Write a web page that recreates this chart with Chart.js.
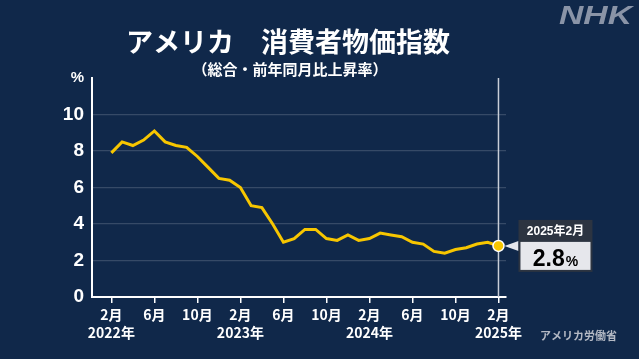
<!DOCTYPE html>
<html lang="ja">
<head>
<meta charset="utf-8">
<script src="https://cdn.jsdelivr.net/npm/chart.js@4.4.0/dist/chart.umd.min.js"></script>
<style>
  html, body { margin: 0; padding: 0; background: #10284a; }
  #wrap { width: 639px; height: 359px; position: relative; }
</style>
</head>
<body>
<div id="wrap"><canvas id="cpiChart"></canvas></div>
<script>
// US CPI, all items, year-over-year change (%)
const months = [
  "2022-02", "2022-03", "2022-04", "2022-05", "2022-06", "2022-07", "2022-08",
  "2022-09", "2022-10", "2022-11", "2022-12",
  "2023-01", "2023-02", "2023-03", "2023-04", "2023-05", "2023-06", "2023-07",
  "2023-08", "2023-09", "2023-10", "2023-11", "2023-12",
  "2024-01", "2024-02", "2024-03", "2024-04", "2024-05", "2024-06", "2024-07",
  "2024-08", "2024-09", "2024-10", "2024-11", "2024-12",
  "2025-01", "2025-02",
];
const cpiValues = [
  7.9, 8.5, 8.3, 8.6, 9.1, 8.5, 8.3, 8.2, 7.7, 7.1, 6.5,
  6.4, 6.0, 5.0, 4.9, 4.0, 3.0, 3.2, 3.7, 3.7, 3.2, 3.1, 3.4,
  3.1, 3.2, 3.5, 3.4, 3.3, 3.0, 2.9, 2.5, 2.4, 2.6, 2.7, 2.9,
  3.0, 2.8,
];
const xTickIndexes = [0, 4, 8, 12, 16, 20, 24, 28, 32, 36];
const yTicks = [0, 2, 4, 6, 8, 10];

const BG = "#10284a";
const LINE = "#f7c600";
const FONT = "'Liberation Sans', 'Noto Sans CJK JP', sans-serif";
const JP = "'Noto Sans CJK JP', 'Liberation Sans', sans-serif";

const lastIdx = cpiValues.length - 1;

const decor = {
  id: "decor",
  beforeDraw(chart) {
    const ctx = chart.ctx;
    ctx.save();
    ctx.fillStyle = BG;
    ctx.fillRect(0, 0, chart.width, chart.height);
    ctx.restore();
  },
  beforeDatasetsDraw(chart) {
    // marker line at latest month
    const ctx = chart.ctx;
    const x = chart.scales.x.getPixelForValue(lastIdx);
    ctx.save();
    ctx.strokeStyle = "#c9ced8";
    ctx.lineWidth = 1.5;
    ctx.beginPath();
    ctx.moveTo(x, chart.chartArea.top);
    ctx.lineTo(x, chart.chartArea.bottom);
    ctx.stroke();
    ctx.restore();
  },
  afterDraw(chart) {
    const ctx = chart.ctx;
    ctx.save();

    // title
    ctx.fillStyle = "#ffffff";
    ctx.textAlign = "center";
    ctx.textBaseline = "middle";
    ctx.font = "bold 27px " + JP;
    ctx.fillText("アメリカ　消費者物価指数", 288, 42);
    ctx.font = "bold 15px " + JP;
    ctx.fillText("（総合・前年同月比上昇率）", 290, 69);

    // logo, stretched wide
    ctx.save();
    ctx.fillStyle = "#8a94a7";
    ctx.font = "italic 900 26px " + FONT;
    ctx.textAlign = "left";
    ctx.textBaseline = "alphabetic";
    const lw = ctx.measureText("NHK").width;
    ctx.translate(559, 24);
    ctx.scale(73 / lw, 1);
    ctx.fillText("NHK", 0, 0);
    ctx.restore();

    // source
    ctx.fillStyle = "#b4b9c4";
    ctx.font = "bold 11px " + JP;
    ctx.textAlign = "left";
    ctx.fillText("アメリカ労働省", 540, 336);

    // callout for latest value
    const px = chart.scales.x.getPixelForValue(lastIdx);
    const py = chart.scales.y.getPixelForValue(cpiValues[lastIdx]);
    const bx = px + 20, bw = 74;
    const hy = py - 26, hh = 22, lh = 30;

    ctx.fillStyle = "#e4e6ec";
    ctx.beginPath();
    ctx.moveTo(px + 6, py);
    ctx.lineTo(bx, py - 5);
    ctx.lineTo(bx, py + 5);
    ctx.closePath();
    ctx.fill();

    ctx.fillStyle = "#2c3441";
    ctx.fillRect(bx, hy, bw, hh + lh);
    ctx.fillStyle = "#e6e7ec";
    ctx.fillRect(bx + 2, hy + hh, bw - 4, lh - 2);

    ctx.fillStyle = "#ffffff";
    ctx.textAlign = "center";
    ctx.font = "bold 12px " + FONT;
    const [yy, mm] = months[lastIdx].split("-");
    ctx.fillText(yy + "年" + Number(mm) + "月", bx + bw / 2, hy + hh / 2 + 1);

    ctx.fillStyle = "#000000";
    ctx.textAlign = "left";
    ctx.textBaseline = "alphabetic";
    ctx.font = "bold 23px " + FONT;
    const val = cpiValues[lastIdx].toFixed(1);
    const w1 = ctx.measureText(val).width;
    ctx.font = "bold 14px " + FONT;
    const w2 = ctx.measureText("%").width;
    const sx = bx + (bw - w1 - w2 - 1) / 2;
    ctx.font = "bold 23px " + FONT;
    ctx.fillText(val, sx, hy + hh + 24);
    ctx.font = "bold 14px " + FONT;
    ctx.fillText("%", sx + w1 + 1, hy + hh + 24);

    ctx.restore();
  },
};

new Chart(document.getElementById("cpiChart"), {
  type: "line",
  data: {
    datasets: [
      {
        data: cpiValues.map((v, i) => ({ x: i, y: v })),
        borderColor: LINE,
        borderWidth: 3,
        tension: 0,
        pointRadius: cpiValues.map((v, i) => (i === lastIdx ? 5.5 : 0)),
        pointBackgroundColor: LINE,
        pointBorderColor: "#ffffff",
        pointBorderWidth: 1.5,
      },
    ],
  },
  options: {
    responsive: true,
    maintainAspectRatio: false,
    animation: false,
    layout: { padding: { left: 0, right: 133, top: 78, bottom: 0 } },
    plugins: {
      legend: { display: false },
      tooltip: { enabled: false },
    },
    scales: {
      x: {
        type: "linear",
        min: -1.8,
        max: 36.7,
        afterFit(scale) { scale.height = 62; },
        afterBuildTicks(scale) {
          scale.ticks = xTickIndexes.map((v) => ({ value: v }));
        },
        border: { color: "#ffffff", width: 2 },
        grid: {
          drawOnChartArea: false,
          drawTicks: true,
          tickLength: 6,
          color: "#ffffff",
          lineWidth: 1.5,
        },
        ticks: {
          autoSkip: false,
          maxRotation: 0,
          padding: 3,
          color: "#ffffff",
          font: { family: JP, size: 14, weight: "bold", lineHeight: 1.25 },
          callback(value) {
            const [y, m] = months[value].split("-");
            const label = Number(m) + "月";
            return m === "02" ? [label, y + "年"] : label;
          },
        },
      },
      y: {
        min: 0,
        max: 12,
        afterFit(scale) { scale.width = 92; },
        afterBuildTicks(scale) {
          scale.ticks = yTicks.concat([12]).map((v) => ({ value: v }));
        },
        border: { color: "#ffffff", width: 2 },
        grid: {
          drawTicks: false,
          color: (c) => (c.tick && (c.tick.value === 12 || c.tick.value === 0) ? "transparent" : "rgba(255,255,255,0.16)"),
          lineWidth: 1.2,
        },
        ticks: {
          padding: 8,
          color: "#ffffff",
          font: (c) => ({
            family: FONT,
            weight: "bold",
            size: c.tick && c.tick.value === 12 ? 15 : 19,
          }),
          callback(value) {
            return value === 12 ? "%" : String(value);
          },
        },
      },
    },
  },
  plugins: [decor],
});
</script>
</body>
</html>
